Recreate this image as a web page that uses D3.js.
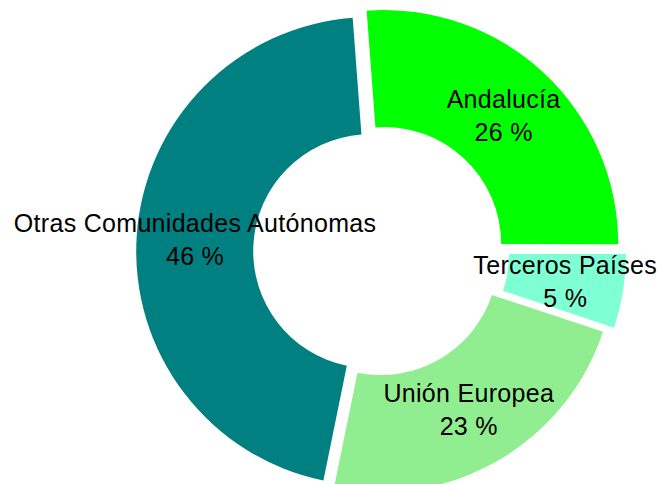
<!DOCTYPE html>
<html>
<head>
<meta charset="utf-8">
<script src="https://cdn.jsdelivr.net/npm/d3@7/dist/d3.min.js"></script>
<style>
  html, body { margin: 0; padding: 0; background: #fff; }
  svg { display: block; }
</style>
</head>
<body>
<div id="chart"></div>
<script>
// Data
const categories = ['Andalucía', 'Terceros Países', 'Unión Europea', 'Otras Comunidades Autónomas'];
const values = [26.2, 5.1, 23.1, 45.6];
const colors = ['#00ff00', '#7fffd4', '#90ee90', '#008080'];

// how far each slice is pulled out from the centre (px)
const explode = [10.3, 15, 7.4, 7];

const width = 661, height = 484;
const cx = 377.2, cy = 251.6;
const outerR = 234, innerR = 117;
const start = -4.3 * Math.PI / 180;

const svg = d3.select('#chart')
  .append('svg')
  .attr('width', width)
  .attr('height', height)
  .style('background-color', '#ffffff');

const g = svg.append('g').attr('transform', `translate(${cx},${cy})`);

const total = d3.sum(values);
const pie = d3.pie()
  .sort(null)
  .startAngle(start)
  .endAngle(start + 2 * Math.PI);

const arc = d3.arc().innerRadius(innerR).outerRadius(outerR);

const slices = pie(values).map((d, i) => {
  const mid = (d.startAngle + d.endAngle) / 2;
  return { ...d, i, dx: explode[i] * Math.sin(mid), dy: -explode[i] * Math.cos(mid) };
});

// Slices
g.selectAll('.slice')
  .data(slices)
  .enter()
  .append('path')
  .attr('class', 'slice')
  .attr('transform', d => `translate(${d.dx},${d.dy})`)
  .attr('d', arc)
  .style('fill', d => colors[d.i]);

// Labels: name + percent, centred on each slice
const labels = g.selectAll('.label')
  .data(slices)
  .enter()
  .append('text')
  .attr('class', 'label')
  .attr('transform', d => {
    const c = arc.centroid(d);
    return `translate(${c[0] + d.dx},${c[1] + d.dy})`;
  })
  .style('font-family', '"Liberation Sans", Arial, sans-serif')
  .style('font-size', '25px')
  .style('letter-spacing', '0.3px')
  .style('fill', '#000')
  .style('text-anchor', 'middle');

labels.append('tspan')
  .attr('x', 0)
  .attr('y', -16.5)
  .attr('dy', '0.35em')
  .text(d => categories[d.i]);

labels.append('tspan')
  .attr('x', 0)
  .attr('y', 16.5)
  .attr('dy', '0.35em')
  .text(d => `${Math.round(d.value / total * 100)} %`);
</script>
</body>
</html>
